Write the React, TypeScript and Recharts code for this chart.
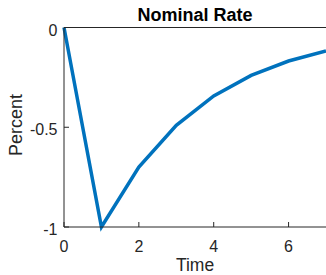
import React from "react";
import { LineChart, Line, XAxis, YAxis, ReferenceLine } from "recharts";

const times = [0, 1, 2, 3, 4, 5, 6, 7];
const nominalRate = [0, -1, -0.7, -0.49, -0.343, -0.24, -0.168, -0.118];
const xTicks = [0, 2, 4, 6];
const yTicks = [-1, -0.5, 0];

const data = times.map((t, i) => ({ time: t, rate: nominalRate[i] }));

const AXIS = "#262626";
const FONT = "'Liberation Sans', Arial, Helvetica, sans-serif";

const XTick = (props: any) => {
  const { x, y, payload } = props;
  return (
    <g>
      <line x1={x} x2={x} y1={y} y2={y - 5} stroke={AXIS} />
      <text x={x} y={y + 24.5} textAnchor="middle" fontSize={16} fill={AXIS} fontFamily={FONT}>
        {payload.value}
      </text>
    </g>
  );
};

const YTick = (props: any) => {
  const { x, y, payload } = props;
  return (
    <g>
      <line x1={x} x2={x + 5} y1={y} y2={y} stroke={AXIS} />
      <text x={x - 6.5} y={y + 8} textAnchor="end" fontSize={16} fill={AXIS} fontFamily={FONT}>
        {payload.value}
      </text>
    </g>
  );
};

export default function App() {
  return (
    <div style={{ position: "absolute", left: 0, top: 0, width: 326, height: 275, background: "#fff" }}>
      <LineChart width={326} height={275} data={data} margin={{ top: 27.5, right: 0, bottom: 0, left: 0 }}>
        <XAxis
          dataKey="time"
          type="number"
          domain={[0, 7]}
          ticks={xTicks}
          height={48}
          tickSize={0}
          tickMargin={0}
          tickLine={false}
          axisLine={{ stroke: AXIS }}
          tick={<XTick />}
        />
        <YAxis
          type="number"
          domain={[-1, 0]}
          ticks={yTicks}
          width={64}
          tickSize={0}
          tickMargin={0}
          tickLine={false}
          axisLine={{ stroke: AXIS }}
          tick={<YTick />}
        />
        <ReferenceLine y={0} stroke={AXIS} />
        <Line
          type="linear"
          dataKey="rate"
          stroke="#0072BD"
          strokeWidth={3.5}
          dot={false}
          isAnimationActive={false}
        />
      </LineChart>
      <svg
        width={326}
        height={275}
        style={{ position: "absolute", left: 0, top: 0, pointerEvents: "none" }}
        fontFamily={FONT}
      >
        <text x={195} y={20.5} textAnchor="middle" fontSize={18} fontWeight="bold" fill="#000">
          Nominal Rate
        </text>
        <text x={195} y={271} textAnchor="middle" fontSize={17.5} fill={AXIS}>
          Time
        </text>
        <text x={22} y={125} textAnchor="middle" fontSize={18} fill={AXIS} transform="rotate(-90 22 125)">
          Percent
        </text>
      </svg>
    </div>
  );
}
